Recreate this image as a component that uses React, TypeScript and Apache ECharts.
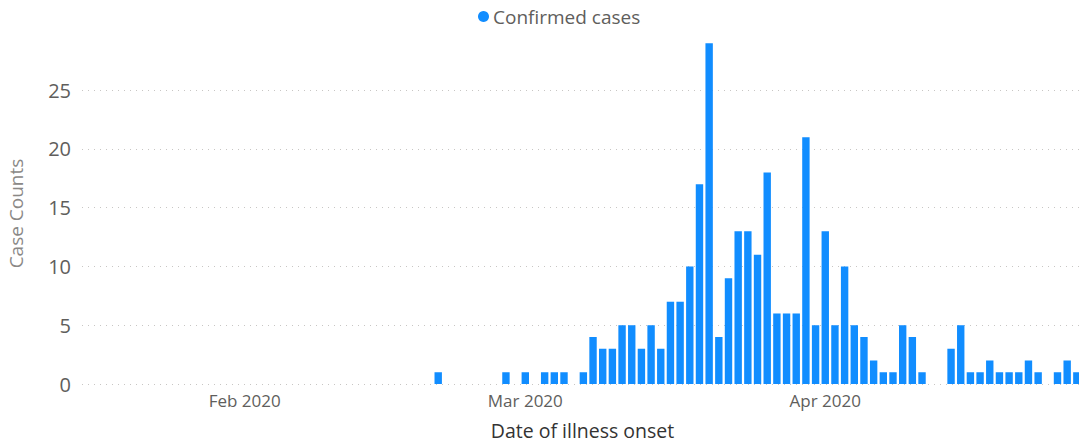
import React, { useEffect, useRef } from "react";
import * as echarts from "echarts";

const onsetDates: string[] = [
  "2020-02-21", "2020-02-28", "2020-03-01", "2020-03-03", "2020-03-04", "2020-03-05",
  "2020-03-07", "2020-03-08", "2020-03-09", "2020-03-10", "2020-03-11", "2020-03-12",
  "2020-03-13", "2020-03-14", "2020-03-15", "2020-03-16", "2020-03-17", "2020-03-18",
  "2020-03-19", "2020-03-20", "2020-03-21", "2020-03-22", "2020-03-23", "2020-03-24",
  "2020-03-25", "2020-03-26", "2020-03-27", "2020-03-28", "2020-03-29", "2020-03-30",
  "2020-03-31", "2020-04-01", "2020-04-02", "2020-04-03", "2020-04-04", "2020-04-05",
  "2020-04-06", "2020-04-07", "2020-04-08", "2020-04-09", "2020-04-10", "2020-04-11",
  "2020-04-14", "2020-04-15", "2020-04-16", "2020-04-17", "2020-04-18", "2020-04-19",
  "2020-04-20", "2020-04-21", "2020-04-22", "2020-04-23", "2020-04-25", "2020-04-26",
  "2020-04-27",
];

const confirmedCases: number[] = [
  1, 1, 1, 1, 1, 1,
  1, 4, 3, 3, 5, 5,
  3, 5, 3, 7, 7, 10,
  17, 29, 4, 9, 13, 13,
  11, 18, 6, 6, 6, 21,
  5, 13, 5, 10, 5, 4,
  2, 1, 1, 5, 4, 1,
  3, 5, 1, 1, 2, 1,
  1, 1, 2, 1, 1, 2,
  1,
];

const monthNames = ["Jan", "Feb", "Mar", "Apr", "May", "Jun", "Jul", "Aug", "Sep", "Oct", "Nov", "Dec"];
const yTicks = [0, 5, 10, 15, 20, 25, 30];

const FONT = "'Open Sans', 'Noto Sans', sans-serif";

export default function App() {
  const ref = useRef<HTMLDivElement>(null);

  useEffect(() => {
    if (!ref.current) return;
    const chart = echarts.init(ref.current, undefined, { renderer: "svg" });
    const DAY = 86400000;
    const option: any = {
      animation: false,
      backgroundColor: "#ffffff",
      textStyle: { fontFamily: FONT },
      legend: {
        data: ["Confirmed cases"],
        top: 2,
        left: 473,
        icon: "circle",
        itemWidth: 11,
        itemHeight: 11,
        itemGap: 4,
        textStyle: { fontFamily: FONT, fontSize: 19, color: "#605E5C", padding: [0, 0, 0, -1] },
      },
      graphic: [
        {
          type: "text",
          x: 16,
          y: 213.5,
          rotation: Math.PI / 2,
          style: {
            text: "Case Counts",
            fontFamily: FONT,
            fontSize: 19,
            fill: "#8A8886",
            align: "center",
            verticalAlign: "middle",
          },
        },
      ],
      grid: { left: 82, right: 0, top: 31.4, bottom: 57, containLabel: false },
      xAxis: {
        type: "time",
        min: new Date(2020, 0, 15, 13, 40).getTime(),
        max: new Date(2020, 3, 26, 20, 10).getTime(),
        minInterval: 28 * DAY,
        maxInterval: 31 * DAY,
        name: "Date of illness onset",
        nameLocation: "middle",
        nameGap: 36,
        nameTextStyle: { fontFamily: FONT, fontSize: 19.5, color: "#333333", padding: [0, 0, 0, 4] },
        axisLine: { show: false },
        axisTick: { show: false },
        splitLine: { show: false },
        axisLabel: {
          showMinLabel: false,
          showMaxLabel: false,
          fontFamily: FONT,
          fontSize: 17,
          color: "#605E5C",
          margin: 8,
          formatter: (val: number) => {
            const d = new Date(val);
            if (d.getDate() !== 1) return "";
            return monthNames[d.getMonth()] + " " + d.getFullYear();
          },
        },
      },
      yAxis: {
        type: "value",
        min: yTicks[0],
        max: yTicks[yTicks.length - 1],
        interval: 5,
        axisLine: { show: false },
        axisTick: { show: false },
        axisLabel: {
          showMaxLabel: false,
          fontFamily: FONT,
          fontSize: 20,
          color: "#605E5C",
          margin: 11,
        },
        splitLine: {
          show: true,
          lineStyle: {
            type: [1, 5],
            width: 1,
            color: yTicks.map((t, i) => (i === yTicks.length - 1 ? "rgba(0,0,0,0)" : "#C8C6C4")),
          },
        },
      },
      series: [
        {
          name: "Confirmed cases",
          type: "bar",
          barWidth: 7.4,
          itemStyle: { color: "#118DFF" },
          data: onsetDates.map((d, i) => [d, confirmedCases[i]]),
        },
      ],
    };
    chart.setOption(option);
    return () => chart.dispose();
  }, []);

  return (
    <div
      ref={ref}
      style={{ position: "absolute", left: 0, top: 0, width: 1079, height: 445 }}
    />
  );
}
